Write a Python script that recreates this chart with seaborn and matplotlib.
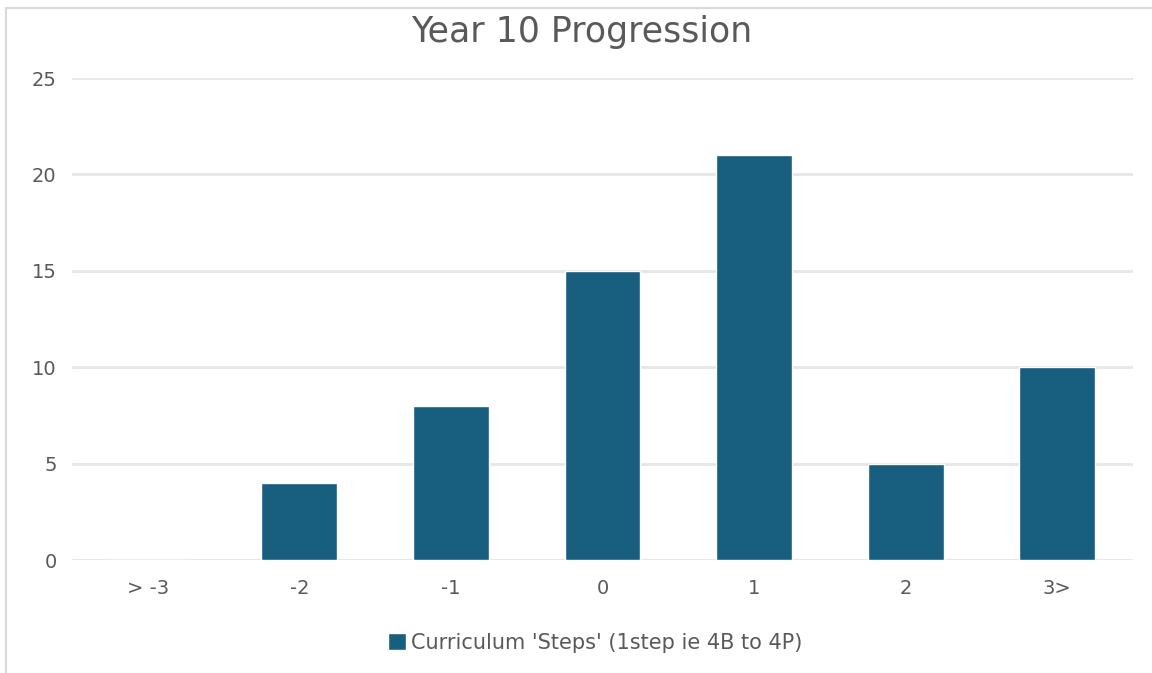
import matplotlib
matplotlib.use("Agg")
import matplotlib.pyplot as plt
from matplotlib.patches import Rectangle, Patch
import seaborn as sns
import pandas as pd

# Progression counts per curriculum step band
categories = ["> -3", "-2", "-1", "0", "1", "2", "3>"]
counts = [0, 4, 8, 15, 21, 5, 10]
series_name = "Curriculum 'Steps' (1step ie 4B to 4P)"
y_ticks = [0, 5, 10, 15, 20, 25]

df = pd.DataFrame({"step": categories, "count": counts})

sns.set_theme(style="white")
plt.rcParams["font.family"] = ["DejaVu Sans"]

bar_color = "#175e7f"
text_color = "#595959"
grid_color = "#e6e6e6"

fig = plt.figure(figsize=(11.52, 6.73), dpi=100)
ax = fig.add_axes([0.0625, 0.1679, 0.921, 0.7162])

sns.barplot(data=df, x="step", y="count", order=categories, color=bar_color,
            saturation=1, width=0.5, ax=ax, zorder=3)

ax.set_ylim(0, 25)
ax.set_yticks(y_ticks)
ax.set_xlim(-0.5, len(categories) - 0.5)
ax.set_xlabel("")
ax.set_ylabel("")
for s in ax.spines.values():
    s.set_visible(False)
ax.yaxis.grid(True, color=grid_color, linewidth=2, zorder=0)
ax.set_axisbelow(True)
ax.tick_params(axis="both", length=0, labelsize=14, labelcolor=text_color)
ax.tick_params(axis="y", pad=11)
ax.tick_params(axis="x", pad=14)

fig.text(0.505, 0.953, "Year 10 Progression", ha="center", va="center",
         fontsize=25, color=text_color)

ax.legend(handles=[Patch(facecolor=bar_color, label=series_name)],
          loc="center", bbox_to_anchor=(0.517, 0.045), bbox_transform=fig.transFigure,
          frameon=False, fontsize=15, labelcolor=text_color,
          handlelength=0.85, handleheight=0.85, handletextpad=0.25)

# chart area outline
fig.patches.append(Rectangle((6 / 1152, -0.01), 1.02, 1 - 8 / 673 + 0.01,
                             transform=fig.transFigure, fill=False,
                             edgecolor="#d9d9d9", linewidth=1.5))

fig.savefig("out.png", dpi=100, facecolor="white")
